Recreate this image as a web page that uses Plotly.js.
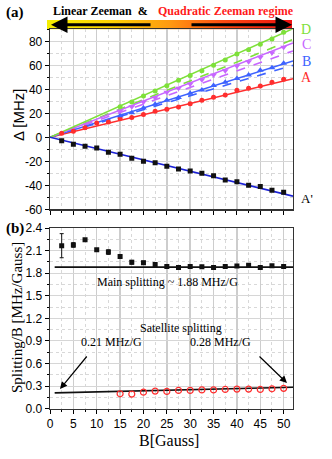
<!DOCTYPE html>
<html>
<head>
<meta charset="utf-8">
<script src="https://cdn.plot.ly/plotly-3.0.1.min.js"></script>
<style>
  html, body { margin: 0; padding: 0; background: #fff; }
  #plot { width: 332px; height: 459px; }
</style>
</head>
<body>
<div id="plot"></div>
<script>
// ---- panel (a): line positions vs field
var fieldA = [2.5, 5, 7.5, 10, 12.5, 15, 17.5, 20, 22.5, 25, 27.5, 30, 32.5, 35, 37.5, 40, 42.5, 45, 47.5, 50];
var lineA = [3.3, 5.0, 8.0, 12.0, 12.7, 15.8, 16.4, 18.9, 21.7, 23.3, 25.3, 28.0, 30.8, 33.3, 35.3, 39.2, 40.8, 42.8, 45.8, 48.3];
var lineAprime = [-2.8, -5.8, -7.5, -9.0, -12.5, -14.2, -17.5, -20.0, -21.2, -24.2, -26.4, -28.1, -30.0, -32.0, -35.6, -37.0, -40.0, -41.1, -44.2, -45.8];

var fieldBCD = [15, 17.5, 20, 22.5, 25, 27.5, 30, 32.5, 35, 37.5, 40, 42.5, 45, 47.5, 50];
var lineB = [18.0, 20.5, 24.5, 27.5, 30.8, 33.2, 36.8, 39.5, 43.2, 45.8, 49.0, 52.0, 55.8, 58.0, 61.8];
var lineC = [22.0, 25.5, 29.5, 33.0, 37.5, 40.8, 44.5, 48.0, 52.0, 55.5, 59.5, 63.0, 66.8, 70.5, 75.0];
var lineD = [25.5, 29.5, 34.5, 38.5, 43.0, 47.5, 51.5, 55.5, 60.0, 64.5, 69.5, 73.0, 77.5, 82.0, 87.5];

// fitted lines (value at the two ends)
var fitFieldA = [0, 52];
var fitA = [0, 48.8];
var fitAprime = [0, -49];
var fitB = [0, 63.6];
var fitBdash = [0, 60.0];
var fitC = [0, 78.6];
var fitCdash = [0, 72.0];
var fitD = [0, 90.5];
var fitDdash = [0, 81.5];

// ---- panel (b): splitting / B
var fieldMain = fieldA;
var mainSplit = [2.165, 2.175, 2.245, 2.11, 2.08, 2.02, 1.945, 1.94, 1.915, 1.89, 1.875, 1.89, 1.885, 1.875, 1.89, 1.895, 1.905, 1.875, 1.90, 1.89];
var mainErr = [0.16, 0.03, 0.01, 0.015, 0.03, 0.012, 0.025, 0.02, 0.01, 0.01, 0.01, 0.01, 0.01, 0.01, 0.01, 0.01, 0.01, 0.01, 0.01, 0.01];
var fieldSat = fieldBCD;
var satSplit = [0.198, 0.194, 0.22, 0.234, 0.23, 0.243, 0.243, 0.25, 0.25, 0.256, 0.26, 0.26, 0.256, 0.264, 0.27];
var fitFieldB = [1, 52];
var mainFit = [1.88, 1.88];
var satFit = [0.21, 0.285];

var ticksA = [-60, -40, -20, 0, 20, 40, 60, 80];
var ticksB = [0, 0.3, 0.6, 0.9, 1.2, 1.5, 1.8, 2.1, 2.4];

var RED = '#ff2e2e', BLUE = '#3d62ff', PURPLE = '#c766ff', GREEN = '#7ee03a';
var SERIF = 'Liberation Serif, Times New Roman, serif';
var SANS = 'Liberation Sans, Arial, sans-serif';

function fitLine(x, y, color, dash, xa, ya) {
  return {x: x, y: y, type: 'scatter', mode: 'lines', xaxis: xa, yaxis: ya,
    line: {color: color, width: 1.6, dash: dash || 'solid'}, hoverinfo: 'skip'};
}
function pts(x, y, color, symbol, size, xa, ya) {
  return {x: x, y: y, type: 'scatter', mode: 'markers', xaxis: xa, yaxis: ya,
    marker: {color: color, symbol: symbol, size: size}};
}

var data = [
  fitLine(fitFieldA, fitBdash, BLUE, 'dash', 'x', 'y'),
  fitLine(fitFieldA, fitCdash, PURPLE, 'dash', 'x', 'y'),
  fitLine(fitFieldA, fitDdash, GREEN, 'dash', 'x', 'y'),
  fitLine(fitFieldA, fitA, RED, null, 'x', 'y'),
  fitLine(fitFieldA, fitB, BLUE, null, 'x', 'y'),
  fitLine(fitFieldA, fitC, PURPLE, null, 'x', 'y'),
  fitLine(fitFieldA, fitD, GREEN, null, 'x', 'y'),
  fitLine(fitFieldA, fitAprime, '#1c22d6', null, 'x', 'y'),
  pts(fieldA, lineA, RED, 'circle', 5, 'x', 'y'),
  pts(fieldBCD, lineB, BLUE, 'triangle-up', 6, 'x', 'y'),
  pts(fieldBCD, lineC, PURPLE, 'triangle-down', 6, 'x', 'y'),
  pts(fieldBCD, lineD, GREEN, 'circle', 5, 'x', 'y'),
  pts(fieldA, lineAprime, '#111', 'square', 5, 'x', 'y'),

  fitLine(fitFieldB, mainFit, '#111', null, 'x2', 'y2'),
  fitLine(fitFieldB, satFit, '#111', null, 'x2', 'y2'),
  {x: fieldMain, y: mainSplit, type: 'scatter', mode: 'markers', xaxis: 'x2', yaxis: 'y2',
    marker: {color: '#111', symbol: 'square', size: 5},
    error_y: {type: 'data', array: mainErr, visible: true, color: '#111', thickness: 1, width: 2}},
  {x: fieldSat, y: satSplit, type: 'scatter', mode: 'markers', xaxis: 'x2', yaxis: 'y2',
    marker: {color: RED, symbol: 'circle-open', size: 6, line: {color: RED, width: 1.2}}}
];

var xDom = [50 / 332, 293 / 332];
function xAxis(anchor, labels) {
  return {domain: xDom, range: [0, 52], anchor: anchor, automargin: false,
    tick0: 0, dtick: 5, ticks: 'outside', ticklen: 4, tickcolor: '#000', tickwidth: 1,
    showticklabels: labels, tickfont: {family: SANS, size: 12, color: '#000'},
    showline: true, linecolor: '#333', linewidth: 1.3, mirror: true,
    showgrid: true, gridcolor: '#cdcdcd', gridwidth: 1.4, zeroline: false,
    minor: {dtick: 2.5, ticks: 'outside', ticklen: 2, tickcolor: '#000',
      showgrid: true, gridcolor: '#d8d8d8', griddash: 'dot', gridwidth: 1}};
}
function yAxis(anchor, dom, range, vals, text, minorStep) {
  return {domain: dom, range: range, anchor: anchor, automargin: false,
    tickmode: 'array', tickvals: vals, ticktext: text,
    ticks: 'outside', ticklen: 4, tickcolor: '#000', tickwidth: 1,
    tickfont: {family: SANS, size: 12, color: '#000'},
    showline: true, linecolor: '#333', linewidth: 1.3, mirror: true,
    showgrid: true, gridcolor: '#d6d6d6', gridwidth: 1, zeroline: false,
    minor: {dtick: minorStep, ticks: 'outside', ticklen: 2, tickcolor: '#000',
      showgrid: true, gridcolor: '#d8d8d8', griddash: 'dot', gridwidth: 1}};
}

function P(px, py) { return {x: px / 332, y: 1 - py / 459}; }
function note(px, py, text, font, extra) {
  var p = P(px, py);
  var a = {xref: 'paper', yref: 'paper', x: p.x, y: p.y, text: text, showarrow: false,
    xanchor: 'center', yanchor: 'middle', font: font};
  for (var k in extra) a[k] = extra[k];
  return a;
}
function arrow(hx, hy, tx, ty, width, size) {
  var p = P(hx, hy);
  return {xref: 'paper', yref: 'paper', x: p.x, y: p.y, ax: tx - hx, ay: ty - hy,
    text: '', showarrow: true, arrowhead: 2, arrowsize: size, arrowwidth: width,
    arrowcolor: '#000'};
}

var serif = function (s, c, bold) { return {family: SERIF, size: s, color: c || '#000', weight: bold ? 'bold' : 'normal'}; };

var gradSvg = '<svg xmlns="http://www.w3.org/2000/svg" width="200" height="10" preserveAspectRatio="none">' +
  '<defs><linearGradient id="g" x1="0" x2="1" y1="0" y2="0">' +
  '<stop offset="0" stop-color="#f4ee00"/><stop offset="0.25" stop-color="#ffd400"/>' +
  '<stop offset="0.5" stop-color="#ff9a10"/><stop offset="0.72" stop-color="#ff4a10"/>' +
  '<stop offset="1" stop-color="#ee1010"/></linearGradient></defs>' +
  '<rect width="200" height="10" fill="url(#g)"/></svg>';

var layout = {
  width: 332, height: 459,
  margin: {l: 0, r: 0, t: 0, b: 0},
  paper_bgcolor: '#fff', plot_bgcolor: '#fff',
  showlegend: false,
  xaxis: xAxis('y', false),
  yaxis: yAxis('x', [1 - 209.3 / 459, 1 - 29.3 / 459], [-60, 90], ticksA, ticksA.map(String), 10),
  xaxis2: xAxis('y2', true),
  yaxis2: yAxis('x2', [1 - 408.7 / 459, 1 - 228 / 459], [0, 2.4], ticksB, ticksB.map(function (v) { return v.toFixed(1); }), 0.15),
  images: [{source: 'data:image/svg+xml;charset=utf-8,' + encodeURIComponent(gradSvg),
    xref: 'paper', yref: 'paper', x: 47 / 332, y: 1 - 20 / 459,
    sizex: 245 / 332, sizey: 9.5 / 459, sizing: 'stretch', xanchor: 'left', yanchor: 'top', layer: 'below'}],
  annotations: [
    note(15, 12, '(a)', serif(15, '#000', true)),
    note(15, 229, '(b)', serif(15, '#000', true)),
    note(51, 11, 'Linear Zeeman  &', serif(12, '#000', true), {xanchor: 'left'}),
    note(156, 11, 'Quadratic Zeeman regime', serif(12, '#ff1a1a', true), {xanchor: 'left'}),
    arrow(51, 24.7, 152, 24.7, 3, 1.1),
    arrow(292, 24.7, 190, 24.7, 3, 1.1),
    note(306, 30, 'D', serif(14, GREEN)),
    note(306, 45, 'C', serif(14, PURPLE)),
    note(306, 61, 'B', serif(14, BLUE)),
    note(306, 77.5, 'A', serif(14, RED)),
    note(307, 199, "A'", serif(13, '#000')),
    note(19, 115, '\u0394 [MHz]', {family: SANS, size: 15, color: '#000'}, {textangle: -90}),
    note(17, 318, 'Splitting/B [MHz/Gauss]', serif(15), {textangle: -90}),
    note(169, 440, 'B[Gauss]', serif(16)),
    note(167, 282, 'Main splitting ~ 1.88 MHz/G', serif(12)),
    note(181, 328, 'Satellite splitting', serif(12)),
    note(112, 342, '0.21 MHz/G', serif(12)),
    note(220, 342, '0.28 MHz/G', serif(12)),
    arrow(60, 389, 88, 355, 1.2, 1.2),
    arrow(287, 383, 258, 355, 1.2, 1.2)
  ]
};

Plotly.newPlot('plot', data, layout, {displayModeBar: false, staticPlot: true});
</script>
</body>
</html>
